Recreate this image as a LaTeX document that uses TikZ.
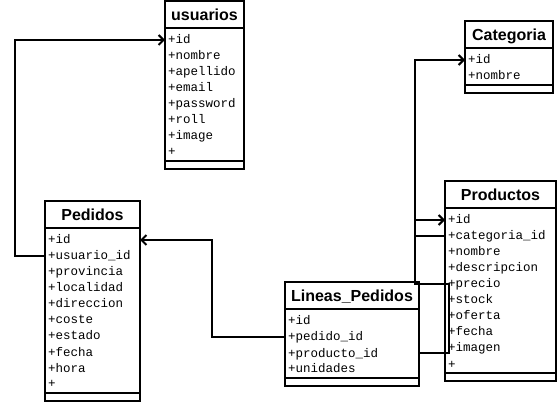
\documentclass[tikz,border=0pt]{standalone}
\usepackage{fontspec}
\setmainfont{Liberation Sans}
\setmonofont{Liberation Mono}
\usetikzlibrary{arrows.meta}
\tikzset{
  titlebox/.style={draw, line width=2pt, anchor=north west, inner sep=0pt, outer sep=0pt,
    minimum height=27pt, text height=13pt, text depth=0pt, font=\bfseries\fontsize{16}{18}\selectfont},
  bodybox/.style={draw, line width=2pt, anchor=north west, inner sep=0pt, outer sep=0pt},
  attr/.style={anchor=west, inner sep=0pt, text height=10pt, text depth=2pt, font=\ttfamily\fontsize{12.5}{14}\selectfont},
  link/.style={line width=2pt, -{Straight Barb[length=5pt,width=10pt]}}
}
\begin{document}
\begin{tikzpicture}[x=1pt, y=-1pt]
\useasboundingbox (0,0) rectangle (557,403);

% usuarios
\node[titlebox, minimum width=79pt] (usuarios) at (165,1) {usuarios};
\node[bodybox, minimum width=79pt, minimum height=133pt] (usuarios body) at (usuarios.south west) {};
\node[bodybox, minimum width=79pt, minimum height=8pt] (usuarios foot) at (usuarios body.south west) {};
\foreach \a [count=\i] in {id,nombre,apellido,email,password,roll,image,{}}
  \node[attr] (usu\i) at (168,{24+16*\i}) {+\a};

% Categoria
\node[titlebox, minimum width=88pt] (categoria) at (465,21) {Categoria};
\node[bodybox, minimum width=88pt, minimum height=37pt] (categoria body) at (categoria.south west) {};
\node[bodybox, minimum width=88pt, minimum height=8pt] (categoria foot) at (categoria body.south west) {};
\foreach \a [count=\i] in {id,nombre}
  \node[attr] (cat\i) at (468,{44+16*\i}) {+\a};

% Pedidos
\node[titlebox, minimum width=95pt] (pedidos) at (45,201) {Pedidos};
\node[bodybox, minimum width=95pt, minimum height=165pt] (pedidos body) at (pedidos.south west) {};
\node[bodybox, minimum width=95pt, minimum height=8pt] (pedidos foot) at (pedidos body.south west) {};
\foreach \a [count=\i] in {id,usuario\_id,provincia,localidad,direccion,coste,estado,fecha,hora,{}}
  \node[attr] (ped\i) at (48,{224+16*\i}) {+\a};

% Productos
\node[titlebox, minimum width=111pt] (productos) at (445,181) {Productos};
\node[bodybox, minimum width=111pt, minimum height=165pt] (productos body) at (productos.south west) {};
\node[bodybox, minimum width=111pt, minimum height=8pt] (productos foot) at (productos body.south west) {};
\foreach \a [count=\i] in {id,categoria\_id,nombre,descripcion,precio,stock,oferta,fecha,imagen,{}}
  \node[attr] (pro\i) at (448,{204+16*\i}) {+\a};

% Lineas_Pedidos
\node[titlebox, minimum width=134pt] (lineas) at (285,282) {Lineas\_Pedidos};
\node[bodybox, minimum width=134pt, minimum height=69pt] (lineas body) at (lineas.south west) {};
\node[bodybox, minimum width=134pt, minimum height=8pt] (lineas foot) at (lineas body.south west) {};
\foreach \a [count=\i] in {id,pedido\_id,producto\_id,unidades}
  \node[attr] (lin\i) at (288,{305+16*\i}) {+\a};

% relaciones
\draw[link] (pedidos body.west |- ped2) -- ++(-30,0) |- (usuarios body.west |- usu1);
\draw[link] (lineas body.west |- lin2) -- ++(-73,0) |- (pedidos body.east |- ped1);
\draw[link] (productos body.west |- pro2) -- ++(-30,0) |- (categoria body.west |- cat1);
\draw[link] (lineas body.east |- lin3) -- ++(30,0) |- ++(-34,-69) |- (productos body.west |- pro1);
\end{tikzpicture}
\end{document}
